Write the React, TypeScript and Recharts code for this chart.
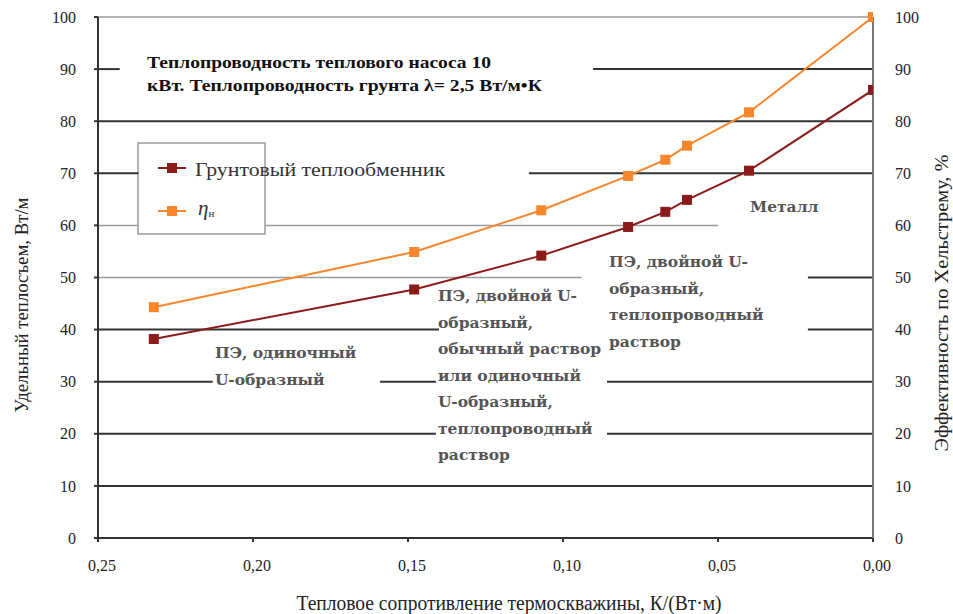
import React from 'react';
import {
  LineChart,
  Line,
  XAxis,
  YAxis,
  ReferenceLine,
  Customized,
} from 'recharts';

// тепловое сопротивление термоскважины, К/(Вт·м)
const resistance = [0.232, 0.148, 0.107, 0.079, 0.067, 0.06, 0.04, 0.0];
// удельный теплосъем, Вт/м
const groundHeat = [38.2, 47.7, 54.2, 59.7, 62.6, 64.9, 70.5, 86.0];
// эффективность по Хельстрему, %
const heatEff = [44.3, 54.9, 62.9, 69.5, 72.6, 75.3, 81.7, 100];

const xTicks = [0, 0.05, 0.1, 0.15, 0.2, 0.25];
const yTicks = [0, 10, 20, 30, 40, 50, 60, 70, 80, 90, 100];

const data = resistance.map((r, i) => ({
  r,
  ground: groundHeat[i],
  eta: heatEff[i],
}));

const BROWN = '#8b1a1a';
const ORANGE = '#f7862c';
const DARK = '#333';
const GRAY = '#9a9a9a';
const SERIF = 'Liberation Serif, Times New Roman, serif';
const NOTE_FONT = 'DejaVu Serif, serif';

// grid pieces, broken where the notes sit
const gridPieces: { y: number; from: number; to: number; color: string }[] = [
  { y: 100, from: 0.25, to: 0, color: GRAY },
  { y: 90, from: 0.25, to: 0.243, color: DARK },
  { y: 90, from: 0.0903, to: 0, color: DARK },
  { y: 80, from: 0.25, to: 0, color: DARK },
  { y: 70, from: 0.25, to: 0.237, color: DARK },
  { y: 70, from: 0.111, to: 0, color: DARK },
  { y: 60, from: 0.25, to: 0.237, color: GRAY },
  { y: 60, from: 0.196, to: 0.05, color: GRAY },
  { y: 50, from: 0.25, to: 0.094, color: GRAY },
  { y: 50, from: 0.021, to: 0, color: DARK },
  { y: 40, from: 0.25, to: 0.14, color: DARK },
  { y: 40, from: 0.021, to: 0, color: DARK },
  { y: 30, from: 0.25, to: 0.213, color: DARK },
  { y: 30, from: 0.159, to: 0.141, color: DARK },
  { y: 30, from: 0.0858, to: 0, color: DARK },
  { y: 20, from: 0.25, to: 0.141, color: DARK },
  { y: 20, from: 0.0858, to: 0, color: DARK },
  { y: 10, from: 0.25, to: 0, color: DARK },
];

const SquareDot = (color: string) => (props: any) => {
  const { cx, cy } = props;
  if (cx == null || cy == null) return null;
  return <rect x={cx - 5} y={cy - 5} width={10} height={10} fill={color} />;
};

const notes: { x: number; y: number; lines: string[] }[] = [
  { x: 215, y: 358, lines: ['ПЭ, одиночный', 'U-образный'] },
  {
    x: 438,
    y: 301,
    lines: [
      'ПЭ, двойной U-',
      'образный,',
      'обычный раствор',
      'или одиночный',
      'U-образный,',
      'теплопроводный',
      'раствор',
    ],
  },
  { x: 609, y: 267, lines: ['ПЭ, двойной U-', 'образный,', 'теплопроводный', 'раствор'] },
  { x: 750, y: 212, lines: ['Металл'] },
];

const fit = { lengthAdjust: 'spacingAndGlyphs' as const };

const Decorations = () => (
  <g>
    <text style={{ fontFamily: SERIF }} fontWeight="bold" fontSize={17} fill="#111">
      <tspan x={147} y={68} textLength={344} {...fit}>
        Теплопроводность теплового насоса 10
      </tspan>
    </text>
    <text style={{ fontFamily: SERIF }} fontWeight="bold" fontSize={17} fill="#111">
      <tspan x={147} y={91} textLength={395} {...fit}>
        кВт. Теплопроводность грунта λ= 2,5 Вт/м•К
      </tspan>
    </text>

    {/* legend */}
    <rect x={138} y={143} width={127} height={91} fill="#fff" stroke={GRAY} strokeWidth={1.5} />
    <line x1={158} x2={186} y1={168} y2={168} stroke={BROWN} strokeWidth={2} />
    <rect x={167} y={163} width={10} height={10} fill={BROWN} />
    <text
      x={195}
      y={176}
      style={{ fontFamily: SERIF }}
      fontSize={19}
      fill="#333"
      textLength={250}
      {...fit}
    >
      Грунтовый теплообменник
    </text>
    <line x1={158} x2={186} y1={211} y2={211} stroke={ORANGE} strokeWidth={2} />
    <rect x={167} y={206} width={10} height={10} fill={ORANGE} />
    <text x={198} y={215} style={{ fontFamily: SERIF }} fontSize={21} fill="#333" fontStyle="italic">
      η
      <tspan fontSize={11} fontStyle="normal" dy={2}>н</tspan>
    </text>

    {notes.map((n, i) => (
      <text key={i} style={{ fontFamily: NOTE_FONT }} fontSize={15.5} fill="#555" fontWeight={600}>
        {n.lines.map((l, j) => (
          <tspan key={j} x={n.x} y={n.y + j * 26.5}>
            {l}
          </tspan>
        ))}
      </text>
    ))}

    <text
      x={509}
      y={610}
      textAnchor="middle"
      style={{ fontFamily: SERIF }}
      fontSize={20}
      fill="#222"
      textLength={425}
      {...fit}
    >
      Тепловое сопротивление термоскважины, К/(Вт·м)
    </text>
    <text
      transform="translate(28, 305) rotate(-90)"
      textAnchor="middle"
      style={{ fontFamily: SERIF }}
      fontSize={19}
      fill="#222"
      textLength={215}
      {...fit}
    >
      Удельный теплосъем, Вт/м
    </text>
    <text
      transform="translate(948, 303) rotate(-90)"
      textAnchor="middle"
      style={{ fontFamily: SERIF }}
      fontSize={19}
      fill="#222"
      textLength={297}
      {...fit}
    >
      Эффективность по Хельстрему, %
    </text>
  </g>
);

const fmt = (v: number) => v.toFixed(2).replace('.', ',');
const tickStyle = { fontSize: 16, fill: '#222', style: { fontFamily: SERIF } };

export default function App() {
  return (
    <div style={{ position: 'absolute', left: 0, top: 0, background: '#fff', fontFamily: SERIF }}>
      <LineChart
        width={953}
        height={614}
        data={data}
        margin={{ top: 17, right: 0, bottom: 0, left: 0 }}
      >
        <XAxis
          dataKey="r"
          type="number"
          domain={[0, 0.25]}
          ticks={xTicks}
          reversed
          allowDataOverflow
          tickFormatter={fmt}
          height={76}
          tickSize={4}
          tickMargin={18}
          stroke={DARK}
          strokeWidth={2}
          tick={{ ...tickStyle, dx: 4 }}
        />
        <YAxis
          yAxisId="left"
          domain={[0, 100]}
          ticks={yTicks}
          width={98}
          tickSize={4}
          tickMargin={18}
          stroke={DARK}
          strokeWidth={2}
          tick={tickStyle}
        />
        <YAxis
          yAxisId="right"
          orientation="right"
          domain={[0, 100]}
          ticks={yTicks}
          width={80}
          tickSize={0}
          tickMargin={22}
          stroke="#777"
          strokeWidth={2}
          tick={tickStyle}
        />
        {gridPieces.map((g, i) => (
          <ReferenceLine
            key={i}
            yAxisId="left"
            segment={[
              { x: g.from, y: g.y },
              { x: g.to, y: g.y },
            ]}
            stroke={g.color}
            strokeWidth={g.color === DARK ? 2 : 1.5}
            ifOverflow="visible"
          />
        ))}
        <Customized component={Decorations} />
        <Line
          yAxisId="left"
          dataKey="ground"
          stroke={BROWN}
          strokeWidth={2}
          dot={SquareDot(BROWN)}
          activeDot={false}
          isAnimationActive={false}
        />
        <Line
          yAxisId="right"
          dataKey="eta"
          stroke={ORANGE}
          strokeWidth={2}
          dot={SquareDot(ORANGE)}
          activeDot={false}
          isAnimationActive={false}
        />
      </LineChart>
    </div>
  );
}
